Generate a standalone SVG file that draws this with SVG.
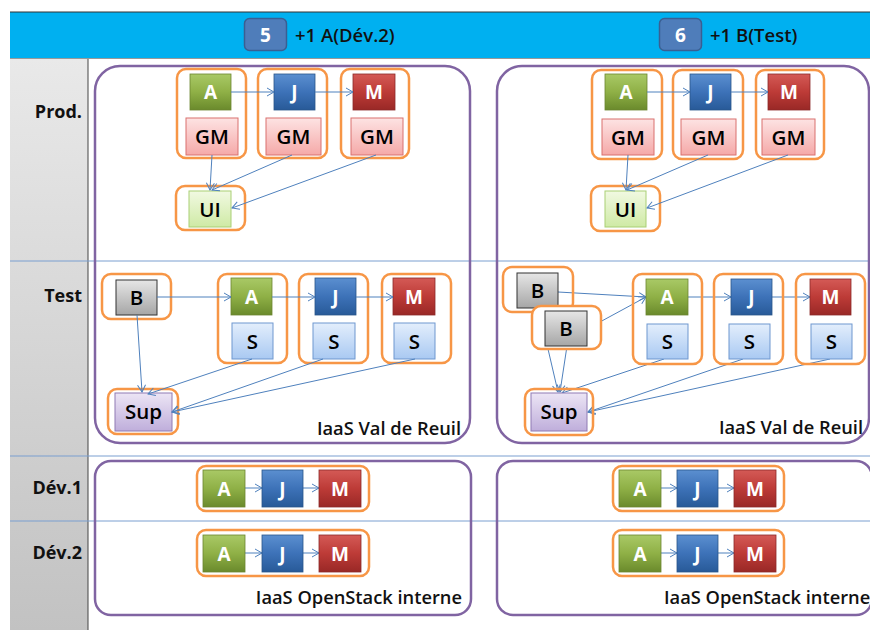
<svg xmlns="http://www.w3.org/2000/svg" width="870" height="630" viewBox="0 0 870 630">
<defs>
<style>
.grp{fill:none;stroke:#F79646;stroke-width:2.5}
.cont{fill:none;stroke:#8064A2;stroke-width:2.5}
.a{fill:url(#gA);stroke:#6b8630;stroke-width:0.8}
.j{fill:url(#gJ);stroke:#2a5589;stroke-width:0.8}
.m{fill:url(#gM);stroke:#8c2a28;stroke-width:0.8}
.gm{fill:url(#gGM);stroke:#d9716e;stroke-width:1}
.ui{fill:url(#gUI);stroke:#a9cf75;stroke-width:1}
.s{fill:url(#gS);stroke:#6f97cf;stroke-width:1}
.b{fill:url(#gB);stroke:#333;stroke-width:1}
.sup{fill:url(#gSup);stroke:#8f7ab3;stroke-width:1}
.w{font-family:"Open Sans","Liberation Sans",sans-serif;font-weight:700;font-size:19px;fill:#fff;text-anchor:middle}
.k{font-family:"Open Sans","Liberation Sans",sans-serif;font-weight:600;font-size:20.5px;fill:#000;text-anchor:middle}
.row{font-family:"Open Sans","Liberation Sans",sans-serif;font-weight:700;font-size:18px;fill:#111;text-anchor:end}
.iaas{font-family:"Open Sans","Liberation Sans",sans-serif;font-weight:600;font-size:18.3px;fill:#111}
.hd{font-family:"Open Sans","Liberation Sans",sans-serif;font-weight:600;font-size:18.5px;fill:#111}
.conn line{stroke:#4F81BD;stroke-width:1;marker-end:url(#arr)}
.hl{stroke:#7b9fd0;stroke-width:1}
</style>
<marker id="arr" markerUnits="userSpaceOnUse" markerWidth="10" markerHeight="10" viewBox="0 0 10 10" refX="9" refY="5" orient="auto">
<path d="M2,1 L9,5 L2,9" fill="none" stroke="#4F81BD" stroke-width="1"/>
</marker>
<linearGradient id="gA" x1="0" y1="0" x2="0" y2="1"><stop offset="0" stop-color="#a9c966"/><stop offset="0.5" stop-color="#8fb046"/><stop offset="1" stop-color="#6a8a2c"/></linearGradient>
<linearGradient id="gJ" x1="0" y1="0" x2="0" y2="1"><stop offset="0" stop-color="#5b8fd0"/><stop offset="0.5" stop-color="#3d72b8"/><stop offset="1" stop-color="#285a98"/></linearGradient>
<linearGradient id="gM" x1="0" y1="0" x2="0" y2="1"><stop offset="0" stop-color="#d45a56"/><stop offset="0.5" stop-color="#bd3b37"/><stop offset="1" stop-color="#992826"/></linearGradient>
<linearGradient id="gGM" x1="0" y1="0" x2="0" y2="1"><stop offset="0" stop-color="#fde3e3"/><stop offset="1" stop-color="#f5a9a8"/></linearGradient>
<linearGradient id="gUI" x1="0" y1="0" x2="0" y2="1"><stop offset="0" stop-color="#f1f9e2"/><stop offset="1" stop-color="#cfeaa5"/></linearGradient>
<linearGradient id="gS" x1="0" y1="0" x2="0" y2="1"><stop offset="0" stop-color="#e3eefc"/><stop offset="1" stop-color="#a9c9f2"/></linearGradient>
<linearGradient id="gB" x1="0" y1="0" x2="0" y2="1"><stop offset="0" stop-color="#e6e6e6"/><stop offset="1" stop-color="#a6a6a6"/></linearGradient>
<linearGradient id="gSup" x1="0" y1="0" x2="0" y2="1"><stop offset="0" stop-color="#ece5f5"/><stop offset="1" stop-color="#bfaedb"/></linearGradient>
<linearGradient id="gCol" x1="0" y1="0" x2="0" y2="1"><stop offset="0" stop-color="#e9e9e9"/><stop offset="1" stop-color="#c2c2c2"/></linearGradient>
</defs>
<rect width="870" height="630" fill="#fff"/>
<g id="background">
<rect x="10" y="58" width="78" height="572" fill="url(#gCol)"/>
<line x1="88" y1="58" x2="88" y2="630" stroke="#444" stroke-width="1"/>
<rect x="10" y="12" width="860" height="46" fill="#00B0F0"/>
<line x1="10" y1="12" x2="870" y2="12" stroke="#333" stroke-width="1"/>
<line x1="10" y1="58.5" x2="870" y2="58.5" stroke="#999" stroke-width="1"/>
<line class="hl" x1="10" y1="261" x2="870" y2="261"/>
<line class="hl" x1="10" y1="456" x2="870" y2="456"/>
<line class="hl" x1="10" y1="521" x2="870" y2="521"/>
</g>
<g id="header">
<g id="step5">
<rect x="244.5" y="18.5" width="42" height="32" rx="5" fill="#4f7dba" stroke="#3a5f92" stroke-width="1.5"/>
<text class="w" x="265.5" y="41.5">5</text>
<text class="hd" x="295" y="42">+1 A(Dév.2)</text>
</g>
<g id="step6">
<rect x="659.5" y="18.5" width="42" height="32" rx="5" fill="#4f7dba" stroke="#3a5f92" stroke-width="1.5"/>
<text class="w" x="680.5" y="41.5">6</text>
<text class="hd" x="710" y="42">+1 B(Test)</text>
</g>
</g>
<g id="rowlabels">
<text class="row" x="82" y="118">Prod.</text>
<text class="row" x="82" y="302">Test</text>
<text class="row" x="82" y="494">Dév.1</text>
<text class="row" x="82" y="559">Dév.2</text>
</g>
<g id="containers">
<g id="iaas-vdr-left"><rect class="cont" x="95" y="66" width="375" height="377" rx="25"/><text class="iaas" x="461" y="435" text-anchor="end">IaaS Val de Reuil</text></g>
<g id="iaas-vdr-right"><rect class="cont" x="497" y="66" width="372" height="377" rx="25"/><text class="iaas" x="863" y="434" text-anchor="end">IaaS Val de Reuil</text></g>
<g id="iaas-os-left"><rect class="cont" x="95" y="461" width="376" height="154" rx="16"/><text class="iaas" x="462" y="604" text-anchor="end">IaaS OpenStack interne</text></g>
<g id="iaas-os-right"><rect class="cont" x="497" y="461" width="375" height="154" rx="16"/><text class="iaas" x="664" y="604">IaaS OpenStack interne</text></g>
</g>
<g id="nodes-left-prod">
<g id="lp-a"><rect class="grp" x="177" y="69" width="69" height="89" rx="9"/><rect class="a" x="190" y="74" width="41" height="36"/><text class="w" x="210.5" y="99">A</text><rect class="gm" x="186" y="118" width="52" height="37"/><text class="k" x="212" y="144">GM</text></g>
<g id="lp-j"><rect class="grp" x="258" y="69" width="69" height="89" rx="9"/><rect class="j" x="274" y="74" width="41" height="36"/><text class="w" x="294.5" y="99">J</text><rect class="gm" x="266" y="118" width="55" height="37"/><text class="k" x="293.5" y="144">GM</text></g>
<g id="lp-m"><rect class="grp" x="341" y="69" width="68" height="89" rx="9"/><rect class="m" x="353" y="74" width="42" height="36"/><text class="w" x="374" y="99">M</text><rect class="gm" x="351" y="118" width="52" height="37"/><text class="k" x="377" y="144">GM</text></g>
<g id="lp-ui"><rect class="grp" x="176" y="186" width="69" height="44" rx="9"/><rect class="ui" x="189" y="191" width="42" height="36"/><text class="k" x="210" y="216.5">UI</text></g>
</g>
<g id="nodes-left-test">
<g id="lt-b"><rect class="grp" x="102" y="274" width="69" height="45" rx="9"/><rect class="b" x="116" y="280" width="41" height="35"/><text class="k" x="136.5" y="305">B</text></g>
<g id="lt-a"><rect class="grp" x="218" y="274" width="69" height="89" rx="9"/><rect class="a" x="231" y="278" width="41" height="37"/><text class="w" x="251.5" y="303.5">A</text><rect class="s" x="232" y="323" width="41" height="36"/><text class="k" x="252.5" y="348.5">S</text></g>
<g id="lt-j"><rect class="grp" x="299" y="274" width="69" height="89" rx="9"/><rect class="j" x="315" y="278" width="41" height="37"/><text class="w" x="335.5" y="303.5">J</text><rect class="s" x="313" y="323" width="42" height="36"/><text class="k" x="334" y="348.5">S</text></g>
<g id="lt-m"><rect class="grp" x="382" y="274" width="69" height="89" rx="9"/><rect class="m" x="393" y="278" width="42" height="37"/><text class="w" x="414" y="303.5">M</text><rect class="s" x="394" y="323" width="41" height="36"/><text class="k" x="414.5" y="348.5">S</text></g>
<g id="lt-sup"><rect class="grp" x="108" y="389" width="70" height="45" rx="9"/><rect class="sup" x="115" y="393" width="57" height="38"/><text class="k" x="143.5" y="418.5">Sup</text></g>
</g>
<g id="nodes-right-prod">
<g id="rp-a"><rect class="grp" x="592" y="70" width="70" height="89" rx="9"/><rect class="a" x="605" y="74" width="42" height="36"/><text class="w" x="626" y="99">A</text><rect class="gm" x="602" y="119" width="52" height="36"/><text class="k" x="628" y="144.5">GM</text></g>
<g id="rp-j"><rect class="grp" x="673" y="70" width="70" height="89" rx="9"/><rect class="j" x="690" y="74" width="41" height="36"/><text class="w" x="710.5" y="99">J</text><rect class="gm" x="681" y="119" width="55" height="36"/><text class="k" x="708.5" y="144.5">GM</text></g>
<g id="rp-m"><rect class="grp" x="756" y="70" width="68" height="89" rx="9"/><rect class="m" x="768" y="74" width="42" height="36"/><text class="w" x="789" y="99">M</text><rect class="gm" x="762" y="119" width="53" height="36"/><text class="k" x="788.5" y="144.5">GM</text></g>
<g id="rp-ui"><rect class="grp" x="591" y="186" width="69" height="45" rx="9"/><rect class="ui" x="605" y="191" width="41" height="36"/><text class="k" x="625.5" y="216.5">UI</text></g>
</g>
<g id="connectors">
<g class="conn">
<line x1="231" y1="92" x2="274" y2="92"/>
<line x1="315" y1="92" x2="353" y2="92"/>
<line x1="212" y1="155" x2="210" y2="190"/>
<line x1="292" y1="155" x2="212" y2="190"/>
<line x1="376" y1="155" x2="232" y2="208"/>
<line x1="157" y1="297" x2="231" y2="297"/>
<line x1="272" y1="297" x2="315" y2="297"/>
<line x1="356" y1="297" x2="393" y2="297"/>
<line x1="137" y1="315" x2="142" y2="392"/>
<line x1="252" y1="359" x2="148" y2="394"/>
<line x1="323" y1="359" x2="172" y2="412"/>
<line x1="415" y1="359" x2="172" y2="412"/>
<line x1="647" y1="92" x2="690" y2="92"/>
<line x1="731" y1="92" x2="768" y2="92"/>
<line x1="628" y1="155" x2="626" y2="190"/>
<line x1="708" y1="155" x2="627" y2="190"/>
<line x1="788" y1="155" x2="647" y2="208"/>
<line x1="558" y1="292" x2="646" y2="297"/>
<line x1="587" y1="329" x2="646" y2="297"/>
<line x1="688" y1="297" x2="731" y2="297"/>
<line x1="772" y1="297" x2="810" y2="297"/>
<line x1="548" y1="349" x2="558" y2="392"/>
<line x1="567" y1="346" x2="560" y2="392"/>
<line x1="664" y1="359" x2="562" y2="393"/>
<line x1="743" y1="359" x2="588" y2="412"/>
<line x1="830" y1="359" x2="588" y2="412"/>
<line x1="245" y1="488" x2="262" y2="488"/>
<line x1="303" y1="488" x2="319" y2="488"/>
<line x1="245" y1="553" x2="262" y2="553"/>
<line x1="303" y1="553" x2="319" y2="553"/>
<line x1="661" y1="488" x2="677" y2="488"/>
<line x1="718" y1="488" x2="734" y2="488"/>
<line x1="661" y1="553" x2="677" y2="553"/>
<line x1="718" y1="553" x2="734" y2="553"/>
</g>
</g>
<g id="nodes-right-test">
<g id="rt-b1"><rect class="grp" x="503" y="267" width="70" height="45" rx="9"/><rect class="b" x="517" y="273" width="41" height="35"/><text class="k" x="537.5" y="298">B</text></g>
<g id="rt-b2"><rect class="grp" x="532" y="306" width="69" height="43" rx="9" style="fill:#fff"/><rect class="b" x="545" y="311" width="42" height="35"/><text class="k" x="566" y="336">B</text></g>
<g id="rt-a"><rect class="grp" x="633" y="274" width="69" height="90" rx="9"/><rect class="a" x="646" y="279" width="42" height="36"/><text class="w" x="667" y="304">A</text><rect class="s" x="647" y="324" width="41" height="35"/><text class="k" x="667.5" y="349">S</text></g>
<g id="rt-j"><rect class="grp" x="714" y="274" width="69" height="90" rx="9"/><rect class="j" x="731" y="279" width="41" height="36"/><text class="w" x="751.5" y="304">J</text><rect class="s" x="729" y="324" width="41" height="35"/><text class="k" x="749.5" y="349">S</text></g>
<g id="rt-m"><rect class="grp" x="796" y="274" width="69" height="90" rx="9"/><rect class="m" x="810" y="279" width="41" height="36"/><text class="w" x="830.5" y="304">M</text><rect class="s" x="811" y="324" width="41" height="35"/><text class="k" x="831.5" y="349">S</text></g>
<g id="rt-sup"><rect class="grp" x="525" y="389" width="68" height="46" rx="9"/><rect class="sup" x="531" y="393" width="56" height="38"/><text class="k" x="559" y="419">Sup</text></g>
</g>
<g id="nodes-dev">
<g id="ld1"><rect class="grp" x="197" y="466" width="172" height="45" rx="9"/><rect class="a" x="203" y="470" width="42" height="37"/><text class="w" x="224" y="495.5">A</text><rect class="j" x="262" y="470" width="41" height="37"/><text class="w" x="282.5" y="495.5">J</text><rect class="m" x="319" y="470" width="42" height="37"/><text class="w" x="340" y="495.5">M</text></g>
<g id="ld2"><rect class="grp" x="197" y="530" width="172" height="46" rx="9"/><rect class="a" x="203" y="535" width="42" height="37"/><text class="w" x="224" y="560.5">A</text><rect class="j" x="262" y="535" width="41" height="37"/><text class="w" x="282.5" y="560.5">J</text><rect class="m" x="319" y="535" width="42" height="37"/><text class="w" x="340" y="560.5">M</text></g>
<g id="rd1"><rect class="grp" x="613" y="466" width="171" height="45" rx="9"/><rect class="a" x="619" y="470" width="42" height="37"/><text class="w" x="640" y="495.5">A</text><rect class="j" x="677" y="470" width="41" height="37"/><text class="w" x="697.5" y="495.5">J</text><rect class="m" x="734" y="470" width="42" height="37"/><text class="w" x="755" y="495.5">M</text></g>
<g id="rd2"><rect class="grp" x="613" y="530" width="171" height="46" rx="9"/><rect class="a" x="619" y="535" width="42" height="37"/><text class="w" x="640" y="560.5">A</text><rect class="j" x="677" y="535" width="41" height="37"/><text class="w" x="697.5" y="560.5">J</text><rect class="m" x="734" y="535" width="42" height="37"/><text class="w" x="755" y="560.5">M</text></g>
</g>
</svg>
